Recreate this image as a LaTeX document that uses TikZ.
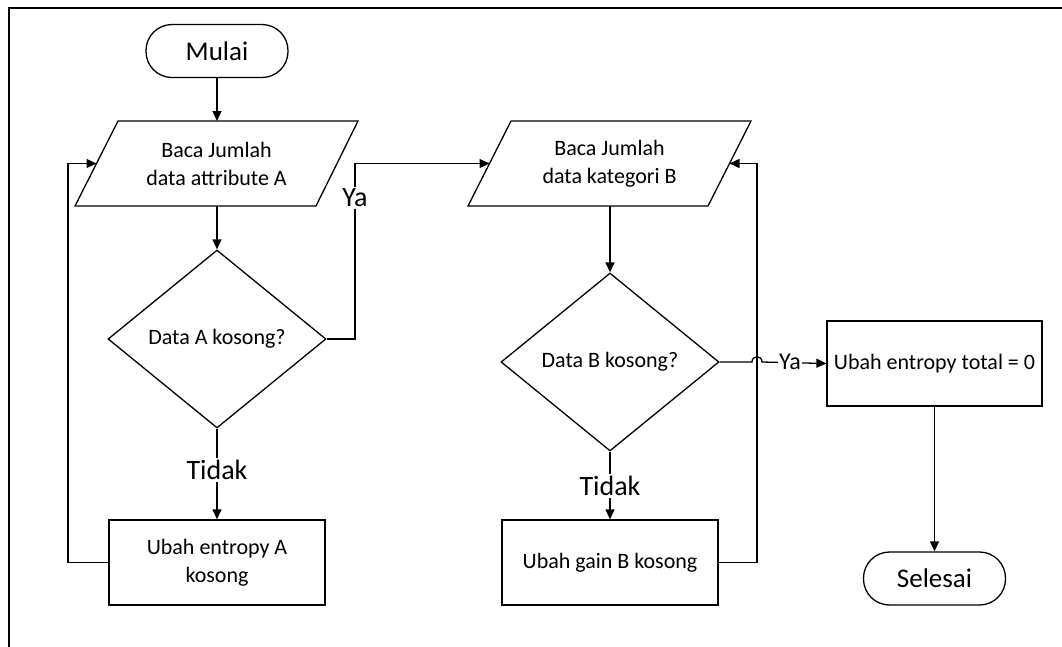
\documentclass[tikz,border=0pt]{standalone}
\usepackage{fontspec}
\setmainfont{Carlito}
\usetikzlibrary{arrows.meta,shapes.geometric,calc}
\begin{document}
\begin{tikzpicture}[x=1pt,y=-1pt,
  line width=1.3pt,
  body/.style={font=\fontsize{22}{28}\selectfont},
  terminal/.style={draw,rounded corners=26pt,minimum width=142pt,minimum height=53pt,
    inner sep=0pt,font=\fontsize{27}{32}\selectfont},
  process/.style={draw,minimum width=216pt,minimum height=85pt,align=center,body},
  decision/.style={draw,diamond,minimum width=218pt,minimum height=178pt,inner sep=0pt,body},
  iotext/.style={align=center,inner sep=0pt,body},
  flow/.style={-{Triangle[length=10pt,width=9pt]}},
  branch/.style={fill=white,inner sep=2pt,font=\fontsize{28}{32}\selectfont},
  branchsmall/.style={fill=white,inner sep=1pt,font=\fontsize{24}{28}\selectfont}
]
\useasboundingbox (0,0) rectangle (1062,646);

% outer frame
\draw[line width=1.5pt] (9,700) -- (9,8) -- (1100,8);

% start
\node[terminal] (start) at (217,51) {Mulai};

% input A (parallelogram)
\node[iotext] (ra) at (216.5,164) {Baca Jumlah\\data attribute A};
\draw (118,121) -- (358,121) -- (316,206) -- (75,206) -- cycle;
\coordinate (ra-n) at (217,121);
\coordinate (ra-s) at (217,206);
\coordinate (ra-w) at (96.5,163.5);

% decision A
\node[decision] (da) at (217,339) {Data A kosong?};

% process A
\node[process] (pa) at (217,562.5) {Ubah entropy A\\kosong};

% input B (parallelogram)
\node[iotext] (rb) at (609.5,164) {Baca Jumlah\\data kategori B};
\draw (511,121) -- (751,121) -- (708,206) -- (468,206) -- cycle;
\coordinate (rb-n) at (610,121);
\coordinate (rb-s) at (610,206);
\coordinate (rb-w) at (489.5,163.5);
\coordinate (rb-e) at (729.5,163.5);

% decision B
\node[decision] (db) at (610,362) {Data B kosong?};

% process B
\node[process] (pb) at (610,562.5) {Ubah gain B kosong};

% total
\node[process,minimum width=215pt] (tot) at (934.5,363.5) {Ubah entropy total = 0};

% end
\node[terminal] (stop) at (934.5,578.5) {Selesai};

% connectors
\draw[flow] (start) -- (ra-n);
\draw[flow] (ra-s) -- (da.north);
\coordinate (ya-bend) at (355,163.5);
\draw[flow] (da.east) -| (ya-bend) -- (rb-w);
\node[branch] (ya-a) at (355,198) {Ya};
\draw[flow] (da.south) -- (pa.north);
\node[branch] (no-a) at (217,470) {Tidak};
\coordinate (loop-a) at (68,163.5);
\draw[flow] (pa.west) -| (loop-a) -- (ra-w);

\draw[flow] (rb-s) -- (db.north);
\draw[flow] (db.south) -- (pb.north);
\node[branch] (no-b) at (610,486) {Tidak};
\coordinate (loop-b) at (757,163.5);
\draw[flow] (pb.east) -| (loop-b) -- (rb-e);

\coordinate (hop-l) at (752,362);
\coordinate (hop-r) at (762,362);
\draw[flow] (db.east) -- (hop-l) .. controls (752,355) and (762,355) .. (hop-r) -- (tot.west);
\node[branchsmall] (ya-b) at (790,362) {Ya};

\draw[flow] (tot) -- (stop);
\end{tikzpicture}
\end{document}
